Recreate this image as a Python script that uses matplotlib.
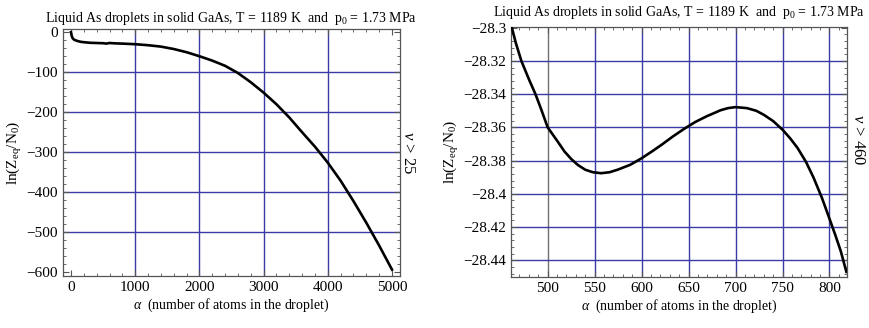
import matplotlib
matplotlib.use("Agg")
from matplotlib import pyplot as plt
from matplotlib.ticker import MultipleLocator, FuncFormatter

plt.rcParams['font.family'] = ['Liberation Serif', 'DejaVu Serif']
plt.rcParams['mathtext.fontset'] = 'custom'
plt.rcParams['mathtext.rm'] = 'Liberation Serif'
plt.rcParams['mathtext.it'] = 'Liberation Serif:italic'

# left panel: whole range, nu > 25
alpha_all = [0, 10, 25, 50, 100, 150, 200, 300, 400, 500, 550, 600, 650, 700, 800,
             1000, 1200, 1400, 1600, 1800, 2000, 2200, 2400, 2600, 2800, 3000,
             3200, 3400, 3600, 3800, 4000, 4200, 4400, 4600, 4800, 5000]
lnz_all = [0, -9, -15, -19, -22, -24, -25, -26.5, -27, -27.5, -28.5, -27, -27.5, -28, -28.5,
           -30, -32.5, -36, -42, -50, -60, -71, -84, -102, -125, -151,
           -180, -213, -250, -286, -326, -371, -422, -476, -533, -593]

# right panel: zoom on the small droplets, nu > 460
alpha_zoom = [461, 466, 472, 480, 487, 493, 500, 510, 518, 525, 532, 540, 548, 557,
              566, 575, 588, 600, 611, 621, 633, 645, 657, 669, 684, 692, 700,
              712, 722, 730, 740, 750, 758, 766, 775, 783, 792, 800, 806, 812, 818]
lnz_zoom = [-28.298, -28.309, -28.320, -28.331, -28.340, -28.349, -28.360, -28.368,
            -28.3746, -28.379, -28.3826, -28.3855, -28.3870, -28.3876, -28.3870,
            -28.3854, -28.3825, -28.3786, -28.3745, -28.3706, -28.3656, -28.3610,
            -28.3568, -28.3534, -28.3497, -28.3484, -28.3478, -28.3484, -28.3500,
            -28.3524, -28.3562, -28.3614, -28.3665, -28.3724, -28.3808, -28.3902,
            -28.4025, -28.4150, -28.4245, -28.4345, -28.4470]

title = r"Liquid As droplets in solid GaAs, T = 1189 K  and  p$_0$ = 1.73 MPa"
ylab = r"ln(Z$_\mathrm{eq}$/N$_0$)"
xlab = r"$\alpha$  (number of atoms in the droplet)"
grid_col = '#3a3aa8'


def minus(v, pos):
    s = ('%g' % v)
    return s.replace('-', '\u2212')


def style(ax):
    ax.tick_params(which='both', direction='in', top=True, right=True, labelsize=11,
                   color='#555555')
    ax.tick_params(which='major', length=4, width=0.8)
    ax.tick_params(which='minor', length=2, width=0.6)
    for s in ax.spines.values():
        s.set_color('#555555')
        s.set_linewidth(0.9)
    ax.yaxis.set_major_formatter(FuncFormatter(minus))


fig = plt.figure(figsize=(8.7, 3.28), dpi=100)

ax1 = fig.add_axes([0.0724, 0.1585, 0.3874, 0.7525])
for gx in [1000, 2000, 3000, 4000]:
    ax1.axvline(gx, color=grid_col, lw=1.0, zorder=1)
for gy in [-100, -200, -300, -400, -500]:
    ax1.axhline(gy, color=grid_col, lw=1.0, zorder=1)
ax1.plot(alpha_all, lnz_all, color='black', lw=1.9, zorder=3)
ax1.set_xlim(-125, 5125)
ax1.set_ylim(-609, 7.5)
ax1.xaxis.set_major_locator(MultipleLocator(1000))
ax1.xaxis.set_minor_locator(MultipleLocator(200))
ax1.yaxis.set_major_locator(MultipleLocator(100))
ax1.yaxis.set_minor_locator(MultipleLocator(20))
style(ax1)
ax1.set_title(title, fontsize=10, pad=5)
ax1.set_ylabel(ylab, fontsize=11, labelpad=2)
ax1.set_xlabel(xlab, fontsize=10, labelpad=2)
ax1.text(1.024, 0.5, r"$\nu$ > 25", transform=ax1.transAxes, rotation=-90,
         ha='center', va='center', fontsize=12)

ax2 = fig.add_axes([0.5874, 0.156, 0.386, 0.762])
ax2.axvline(500, color='#707070', lw=1.0, zorder=1)
for gx in [550, 600, 650, 700, 750, 800]:
    ax2.axvline(gx, color=grid_col, lw=1.0, zorder=1)
for gy in [-28.32, -28.34, -28.36, -28.38, -28.40, -28.42, -28.44]:
    ax2.axhline(gy, color=grid_col, lw=1.0, zorder=1)
ax2.plot(alpha_zoom, lnz_zoom, color='black', lw=1.9, zorder=3)
ax2.set_xlim(461, 818.5)
ax2.set_ylim(-28.45, -28.2995)
ax2.xaxis.set_major_locator(MultipleLocator(50))
ax2.xaxis.set_minor_locator(MultipleLocator(10))
ax2.yaxis.set_major_locator(MultipleLocator(0.02))
ax2.yaxis.set_minor_locator(MultipleLocator(0.004))
style(ax2)
ax2.set_title(title, fontsize=10, pad=8)
ax2.set_ylabel(ylab, fontsize=11, labelpad=2)
ax2.set_xlabel(xlab, fontsize=10, labelpad=2)
ax2.text(1.033, 0.55, r"$\nu$ > 460", transform=ax2.transAxes, rotation=-90,
         ha='center', va='center', fontsize=12)

plt.savefig('out.png', dpi=100)
